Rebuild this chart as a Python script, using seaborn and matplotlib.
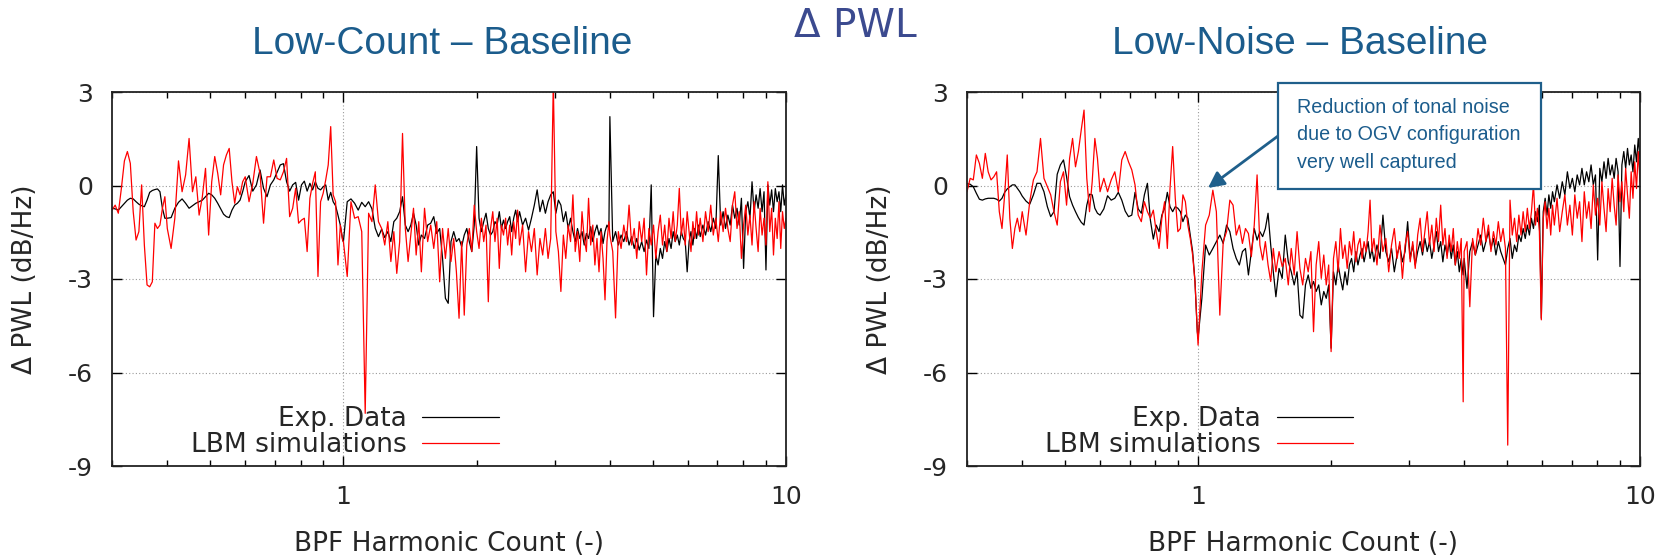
import matplotlib
matplotlib.use("Agg")
import matplotlib.pyplot as plt
from matplotlib.patches import Rectangle
from matplotlib.ticker import FixedLocator, NullFormatter
import seaborn as sns

# BPF harmonic count (x) shared by all four spectra
harmonic = [
    0.300, 0.305, 0.310, 0.315, 0.320, 0.325, 0.330, 0.335, 0.340, 0.345,
    0.350, 0.355, 0.360, 0.365, 0.370, 0.375, 0.380, 0.385, 0.390, 0.395,
    0.400, 0.408, 0.416, 0.424, 0.432, 0.440, 0.448, 0.456, 0.464, 0.472,
    0.480, 0.488, 0.496, 0.504, 0.512, 0.520, 0.528, 0.536, 0.544, 0.552,
    0.560, 0.568, 0.576, 0.584, 0.592,
    0.600, 0.612, 0.624, 0.636, 0.648, 0.660, 0.672, 0.684, 0.696, 0.708,
    0.720, 0.732, 0.744, 0.756, 0.768, 0.780, 0.792, 0.804, 0.816, 0.828,
    0.840, 0.852, 0.864, 0.876, 0.888, 0.900, 0.912, 0.924, 0.936, 0.948,
    0.960, 0.972, 0.984, 0.996,
    1.00, 1.02, 1.04, 1.06, 1.08, 1.10, 1.12, 1.14, 1.16, 1.18,
    1.20, 1.22, 1.24, 1.26, 1.28, 1.30, 1.32, 1.34, 1.36, 1.38,
    1.40, 1.42, 1.44, 1.46, 1.48,
    1.500, 1.525, 1.550, 1.575, 1.600, 1.625, 1.650, 1.675, 1.700, 1.725,
    1.750, 1.775, 1.800, 1.825, 1.850, 1.875, 1.900, 1.925, 1.950, 1.975,
    2.000, 2.025, 2.050, 2.075, 2.100, 2.125, 2.150, 2.175, 2.200, 2.225,
    2.250, 2.275, 2.300, 2.325, 2.350, 2.375, 2.400, 2.425, 2.450, 2.475,
    2.50, 2.54, 2.58, 2.62, 2.66, 2.70, 2.74, 2.78, 2.82, 2.86,
    2.90, 2.94, 2.98, 3.02, 3.06, 3.10, 3.14, 3.18, 3.22, 3.26,
    3.30, 3.34, 3.38, 3.42, 3.46, 3.50, 3.54, 3.58, 3.62, 3.66,
    3.70, 3.74, 3.78, 3.82, 3.86, 3.90, 3.94, 3.98,
    4.00, 4.06, 4.12, 4.18, 4.24, 4.30, 4.36, 4.42, 4.48, 4.54,
    4.60, 4.66, 4.72, 4.78, 4.84, 4.90, 4.96, 5.02, 5.08, 5.14,
    5.20, 5.26, 5.32, 5.38, 5.44, 5.50, 5.56, 5.62, 5.68, 5.74,
    5.80, 5.86, 5.92, 5.98, 6.04, 6.10, 6.16, 6.22, 6.28, 6.34,
    6.40, 6.49, 6.58, 6.67, 6.76, 6.85, 6.94, 7.03, 7.12, 7.21,
    7.30, 7.39, 7.48, 7.57, 7.66, 7.75, 7.84, 7.93, 8.02, 8.11,
    8.20, 8.29, 8.38, 8.47, 8.56, 8.65, 8.74, 8.83, 8.92, 9.01,
    9.10, 9.19, 9.28, 9.37, 9.46, 9.55, 9.64, 9.73, 9.82, 9.91,
    10.0,
]

# delta PWL (dB/Hz), Low-Count - Baseline
exp_low_count = [
    -0.73, -0.75, -0.79, -0.68, -0.57, -0.47, -0.41, -0.43, -0.52, -0.60,
    -0.65, -0.68, -0.47, -0.22, -0.16, -0.13, -0.11, -0.20, -0.73, -1.05,
    -1.05, -1.03, -0.73, -0.54, -0.43, -0.57, -0.73, -0.65, -0.57, -0.52,
    -0.47, -0.36, -0.25, -0.30, -0.41, -0.57, -0.75, -0.92, -1.00, -1.03,
    -0.79, -0.63, -0.57, -0.47, -0.20,
    0.12, 0.32, -0.18, 0.02, 0.50, -0.09, -0.36, 0.02, 0.18, 0.42,
    0.66, 0.70, 0.12, -0.18, 0.02, 0.10, -0.47, 0.02, 0.14, -0.18,
    0.07, -0.14, 0.12, -0.09, -0.14, -0.04, 0.02, -0.47, -0.22, -0.52,
    -0.65, -0.95, -1.27, -1.75,
    -1.80, -0.52, -0.43, -0.57, -0.79, -0.54, -0.68, -0.52, -0.75, -1.37,
    -1.64, -1.40, -1.67, -1.48, -1.80, -1.16, -1.05, -0.84, -0.36, -1.27,
    -1.48, -1.27, -0.89, -1.27, -1.91,
    -1.59, -1.70, -1.27, -1.21, -1.00, -1.54, -1.38, -2.34, -3.62, -3.78,
    -1.80, -1.48, -1.80, -1.70, -1.96, -1.59, -1.38, -1.80, -2.12, -1.27,
    1.25, -1.05, -1.48, -1.16, -0.89, -1.38, -1.59, -1.48, -1.16, -1.27,
    -0.84, -1.38, -1.11, -1.38, -1.16, -1.00, -1.48, -1.05, -0.79, -1.16,
    -0.84, -1.27, -1.05, -1.43, -1.05, -0.63, -0.14, -0.84, -0.47, -0.89,
    -0.52, -0.30, -0.20, -0.89, -0.47, -0.63, -1.16, -0.84, -1.38, -1.05,
    -1.48, -1.80, -1.38, -1.70, -1.48, -1.91, -1.54, -1.70, -1.32, -1.80,
    -1.48, -1.27, -1.59, -1.38, -1.86, -1.48, -1.27, -1.38,
    2.21, -1.80, -1.48, -1.91, -1.59, -1.80, -1.48, -1.91, -1.64, -2.02,
    -1.70, -2.07, -1.80, -2.12, -1.75, -2.02, 0.02, -4.21, -2.23, -2.55,
    -2.02, -2.34, -1.80, -2.12, -1.70, -2.02, -1.48, -1.80, -1.59, -1.91,
    -1.48, -1.70, -1.80, -2.77, -1.80, -1.48, -1.91, -1.38, -1.70, -1.27,
    -1.64, -1.27, -1.59, -1.16, -1.48, -1.05, -1.38, 0.96, -1.27, -0.84,
    -1.38, -0.95, -1.27, -0.63, -1.05, -0.73, -1.27, -0.41, -2.66, -0.84,
    -0.52, -1.05, 0.12, -0.84, -0.30, -0.73, -0.10, -0.84, -0.20, -2.71,
    0.02, -0.63, -0.14, -0.84, -0.10, -0.52, -0.20, -0.84, 0.02, -0.63,
    -0.30,
]

lbm_low_count = [
    -0.79, -0.63, -0.89, -0.09, 0.79, 1.09, 0.71, -0.84, -1.75, -1.48,
    0.02, -1.91, -3.19, -3.25, -3.09, -1.21, -1.38, -1.27, -0.73, -0.36,
    -1.38, -2.02, -1.05, 0.79, -0.20, 0.34, 1.51, -0.20, 0.28, -0.95,
    -0.36, 0.55, -1.59, 0.12, 0.93, 0.39, -0.30, 0.66, 0.98, 1.19,
    0.12, -0.57, -0.04, -0.30, 0.12,
    0.28, -0.52, 0.07, 0.93, 0.39, -1.21, 0.28, 0.28, 0.82, 0.23,
    0.18, 0.44, 0.87, -1.00, -0.73, -0.09, -1.21, -1.11, -1.05, -2.12,
    -0.41, 0.07, 0.44, -2.92, -0.52, -0.25, 0.18, 0.66, 1.89, -0.30,
    -0.52, -2.55, -1.27, -1.75,
    -1.80, -2.92, -0.52, -1.05, -1.00, -1.48, -7.31, -0.89, -1.16, 0.02,
    -1.16, -1.38, -1.91, -1.16, -2.44, -1.48, -2.82, -1.80, 1.67, -1.38,
    -2.44, -1.59, -0.73, -2.23, -1.16,
    -2.77, -0.73, -1.80, -1.27, -2.02, -1.16, -3.09, -1.38, -2.34, -1.38,
    -2.44, -1.70, -2.77, -4.26, -1.80, -4.16, -1.91, -1.38, -2.12, -0.63,
    -1.48, -2.02, -1.05, -1.80, -1.27, -3.73, -1.38, -0.84, -1.80, -1.05,
    -2.66, -1.27, -1.59, -1.05, -1.91, -1.27, -2.23, -1.16, -1.70, -0.79,
    -1.91, -1.27, -2.77, -1.48, -2.12, -1.38, -2.87, -1.70, -2.23, -1.38,
    -2.34, -1.70, 3.30, -1.48, -2.12, -3.40, -1.59, -2.34, -1.27, -1.80,
    -0.30, -2.12, -1.48, -2.44, -0.84, -1.70, -2.12, -0.41, -1.91, -1.27,
    -2.55, -1.70, -2.77, -1.48, -2.34, -3.67, -1.80, -1.16,
    -1.59, -2.12, -4.25, -1.48, -2.02, -1.27, -1.80, -0.63, -1.91, -1.38,
    -2.34, -1.16, -1.80, -1.05, -2.87, -1.38, -1.91, -1.27, -2.34, -1.48,
    -0.95, -1.91, -1.27, -2.12, -1.05, -1.70, -0.84, -1.80, -1.27, -0.09,
    -1.59, -1.05, -1.91, -0.84, -1.48, -2.12, -1.16, -1.70, -0.84, -1.59,
    -1.05, -1.80, -0.84, -1.48, -0.63, -1.59, -1.05, -1.80, -0.84, -1.48,
    -0.73, -1.38, -1.80, -0.63, -0.20, -1.38, -0.84, -2.34, -1.27, -0.63,
    -1.59, -0.95, -1.91, -0.52, -1.38, -2.12, -0.73, -1.59, -1.05, -1.91,
    0.12, -1.48, -0.73, -2.23, -1.05, -1.70, -0.52, -2.02, -0.84, -1.38,
    -1.05,
]

# delta PWL (dB/Hz), Low-Noise - Baseline
exp_low_noise = [
    0.06, 0.04, -0.04, -0.25, -0.44, -0.47, -0.43, -0.41, -0.41, -0.41,
    -0.44, -0.50, -0.41, -0.22, -0.11, -0.04, 0.02, 0.02, -0.09, -0.20,
    -0.34, -0.50, -0.60, -0.30, 0.07, 0.07, -0.20, -0.68, -1.00, -0.84,
    0.36, 0.66, 0.82, 0.28, -0.36, -0.63, -0.84, -1.03, -1.18, -1.27,
    -0.63, -0.28, -0.30, -0.73, -0.89,
    -0.95, -0.75, -0.33, -0.47, -0.41, -0.22, -0.47, -0.82, -1.00, -0.95,
    -0.22, -0.75, -0.89, -0.30, 0.07, -1.11, -1.72, -1.27, -1.48, -0.95,
    -0.73, -0.22, -0.68, -0.84, -0.68, -0.73, -0.84, -1.16, -0.95, -1.05,
    -1.59, -2.12, -3.08, -4.69,
    -4.90, -3.62, -1.91, -2.23, -2.02, -1.80, -1.59, -1.86, -1.27, -1.48,
    -2.02, -2.34, -2.55, -2.12, -2.02, -2.87, -2.12, -1.38, -1.75, -1.48,
    -1.64, -1.38, -0.89, -1.91, -2.77,
    -3.57, -2.66, -2.98, -1.59, -2.45, -2.77, -3.19, -2.77, -4.16, -4.26,
    -3.19, -2.87, -3.30, -3.08, -3.40, -3.19, -3.83, -3.40, -3.62, -3.19,
    -5.22, -2.77, -3.19, -2.55, -2.98, -3.35, -2.77, -3.19, -2.55, -2.34,
    -2.77, -2.12, -2.55, -2.23, -2.02, -2.45, -2.12, -1.80, -2.34, -2.02,
    -2.45, -1.91, -2.34, -0.95, -2.12, -2.45, -2.02, -2.77, -2.23, -1.91,
    -2.45, -2.12, -1.16, -2.34, -1.91, -2.55, -2.12, -1.80, -2.23, -1.70,
    -2.12, -1.80, -2.34, -1.91, -1.48, -2.12, -1.80, -2.45, -1.91, -2.23,
    -1.80, -2.34, -1.91, -2.55, -2.12, -2.77, -2.34, -2.87,
    -2.34, -3.30, -2.12, -1.80, -2.23, -1.91, -1.59, -2.12, -1.80, -1.48,
    -2.02, -1.70, -2.23, -1.80, -2.12, -2.34, -2.55, -2.02, -1.70, -2.34,
    -1.91, -2.12, -1.59, -1.80, -1.38, -1.70, -1.27, -1.59, -1.05, -1.38,
    -0.84, -1.16, -0.63, -4.26, -0.84, -0.41, -0.95, -0.30, -0.73, -0.20,
    -0.52, 0.02, -0.41, 0.12, -0.30, 0.44, -0.09, 0.23, -0.20, 0.34,
    0.02, 0.55, 0.02, 0.44, 0.12, 0.66, 0.02, 0.34, -2.39, 0.55,
    0.12, 0.76, 0.23, 0.87, 0.34, 0.66, 0.23, 0.87, 0.44, -2.60,
    0.66, 1.09, 0.55, 1.19, 0.66, 0.98, 0.44, 1.30, 0.76, 1.51,
    0.87,
]

lbm_low_noise = [
    -0.20, 0.23, 0.18, 0.98, 0.71, 0.23, 1.03, 0.44, 0.18, 0.28,
    0.44, -0.84, -1.38, -0.30, 0.98, -1.05, -2.02, -1.38, -1.05, -1.48,
    -0.84, -1.59, -0.52, 0.18, 0.44, 1.51, 0.23, -0.04, -0.30, -0.84,
    -1.27, 0.12, 0.44, -0.63, 0.87, 1.51, 0.60, 1.09, 1.78, 2.42,
    0.23, -0.84, 0.12, 1.51, 0.87,
    -0.20, 0.23, -0.20, 0.18, 0.44, -0.20, 0.82, 1.09, 0.76, 0.50,
    0.02, -0.95, -1.16, -0.52, -0.84, -1.05, -0.79, -1.48, -2.02, -1.05,
    -0.52, -2.02, -0.09, 1.25, -0.41, -1.48, -1.38, -0.30, -0.52, -1.27,
    -1.70, -2.23, -3.08, -4.69,
    -5.12, -2.77, -1.27, -0.95, -0.15, -0.84, -4.16, -1.80, -1.48, -0.47,
    -0.63, -1.59, -1.27, -1.86, -1.38, -1.54, -2.28, -1.27, 0.34, -1.91,
    -2.39, -1.80, -2.55, -3.08, -2.02,
    -2.77, -2.12, -2.60, -2.34, -3.19, -2.02, -2.87, -1.48, -2.66, -3.19,
    -2.34, -2.77, -2.12, -4.69, -2.55, -1.80, -2.98, -2.23, -3.19, -2.55,
    -5.33, -2.34, -1.80, -2.77, -1.38, -2.34, -1.91, -2.66, -1.80, -2.23,
    -1.48, -2.45, -1.91, -1.70, -2.34, -1.80, -2.12, -1.48, -0.47, -2.12,
    -1.70, -2.55, -1.27, -2.12, -1.70, -2.77, -1.91, -1.38, -2.34, -1.80,
    -2.98, -1.91, -1.48, -2.45, -1.80, -2.66, -1.59, -1.05, -2.12, -1.48,
    -0.84, -1.91, -1.27, -2.12, -1.05, -1.80, -0.63, -1.91, -1.38, -2.34,
    -1.59, -2.12, -1.38, -2.55, -1.80, -2.34, -1.70, -6.94,
    -2.12, -1.80, -3.89, -1.70, -2.23, -1.38, -1.91, -1.05, -1.80, -1.27,
    -2.12, -1.48, -1.91, -1.16, -1.80, -1.38, -2.02, -8.33, -0.47, -1.59,
    -1.05, -1.80, -0.95, -1.59, -0.84, -1.48, -0.73, -1.38, -0.84, 0.02,
    -1.27, -0.73, -1.48, -4.31, -1.05, -0.52, -1.38, -0.73, -1.59, -0.63,
    -1.27, -0.41, -1.48, -0.84, -0.30, -1.27, -0.63, -1.59, -0.30, -1.05,
    -0.52, -1.80, -0.20, -1.05, -0.52, -1.38, 0.02, -0.95, -0.41, -1.27,
    0.12, -0.73, -1.48, -0.10, -0.84, 0.23, -0.63, -1.27, 0.34, -0.52,
    0.12, -0.84, 0.55, -0.30, -1.05, 0.44, -0.41, 0.76, -0.10, 1.09,
    0.12,
]

panel_titles = ["Low-Count \u2013 Baseline", "Low-Noise \u2013 Baseline"]
legend_labels = ["Exp. Data", "LBM simulations"]
y_ticks = [-9, -6, -3, 0, 3]
x_ticks = [1, 10]
x_tick_labels = ["1", "10"]
x_minor = [0.3, 0.4, 0.5, 0.6, 0.7, 0.8, 0.9, 2, 3, 4, 5, 6, 7, 8, 9]
note = "Reduction of tonal noise\ndue to OGV configuration\nvery well captured"

blue = "#1b5c8c"

sns.set_theme(style="ticks")
plt.rcParams["font.family"] = ["DejaVu Sans"]
plt.rcParams["axes.unicode_minus"] = False

W, H = 1671, 557
fig = plt.figure(figsize=(W / 100, H / 100), dpi=100)
ax1 = fig.add_axes([112 / W, 91 / H, 674 / W, 374 / H])
ax2 = fig.add_axes([967 / W, 91 / H, 673 / W, 374 / H])

series = [(ax1, exp_low_count, lbm_low_count), (ax2, exp_low_noise, lbm_low_noise)]
for ax, exp, lbm in series:
    sns.lineplot(x=harmonic, y=exp, ax=ax, color="black", lw=0.9,
                 estimator=None, sort=False, label=legend_labels[0])
    sns.lineplot(x=harmonic, y=lbm, ax=ax, color="#ff0000", lw=0.9,
                 estimator=None, sort=False, label=legend_labels[1])
    ax.set_xscale("log")
    ax.set_xlim(0.3, 10)
    ax.set_ylim(-9, 3)
    ax.xaxis.set_major_locator(FixedLocator(x_ticks))
    ax.set_xticklabels(x_tick_labels)
    ax.xaxis.set_minor_locator(FixedLocator(x_minor))
    ax.xaxis.set_minor_formatter(NullFormatter())
    ax.set_yticks(y_ticks)
    ax.grid(True, which="major", ls=(0, (1, 2)), color="#9a9a9a", lw=0.8)
    ax.tick_params(which="both", direction="in", top=True, right=True,
                   color="black", width=1.0)
    ax.tick_params(which="major", length=7, labelsize=18, pad=13.5)
    ax.tick_params(which="minor", length=4)
    for sp in ax.spines.values():
        sp.set_color("#222222")
        sp.set_linewidth(1.3)
    ax.set_ylabel("\u0394 PWL (dB/Hz)", fontsize=19, va="center")
    ax.yaxis.set_label_coords(-0.129, 0.5)
    ax.set_xlabel("BPF Harmonic Count (-)", fontsize=19, va="center")
    ax.xaxis.set_label_coords(0.5, -0.2086)
    ax.legend(loc="lower right", bbox_to_anchor=(0.574, 0.021), frameon=False,
              markerfirst=False, fontsize=19, handlelength=2.9,
              handletextpad=0.6, labelspacing=0.0, borderpad=0,
              borderaxespad=0)

fig.text(442 / W, 1 - 54 / H, panel_titles[0], ha="center", va="baseline",
         fontsize=28, family=["Liberation Sans", "DejaVu Sans"], color=blue)
fig.text(1300 / W, 1 - 54 / H, panel_titles[1], ha="center", va="baseline",
         fontsize=28, family=["Liberation Sans", "DejaVu Sans"], color=blue)
fig.text(855 / W, 1 - 37 / H, "\u0394 PWL", ha="center", va="baseline",
         fontsize=28, color="#3b4a8f")

# callout box on the right panel
fig.add_artist(Rectangle((1278 / W, 1 - 189 / H), 263 / W, 106 / H,
                         transform=fig.transFigure, fc="white", ec="#1f5f8b",
                         lw=1.6, zorder=5))
fig.text(1297 / W, 1 - 98 / H, note, ha="left", va="top", fontsize=14.2,
         family=["Liberation Sans", "DejaVu Sans"], color=blue,
         linespacing=1.56, zorder=6)
ax2.annotate("", xy=(1.053, -0.08), xycoords="data",
             xytext=(1278 / W, 1 - 136 / H), textcoords="figure fraction",
             arrowprops=dict(arrowstyle="-|>", color="#1f5f8b", lw=2.0,
                             mutation_scale=24, shrinkA=0, shrinkB=0),
             annotation_clip=False)

fig.savefig("out.png", dpi=100)
